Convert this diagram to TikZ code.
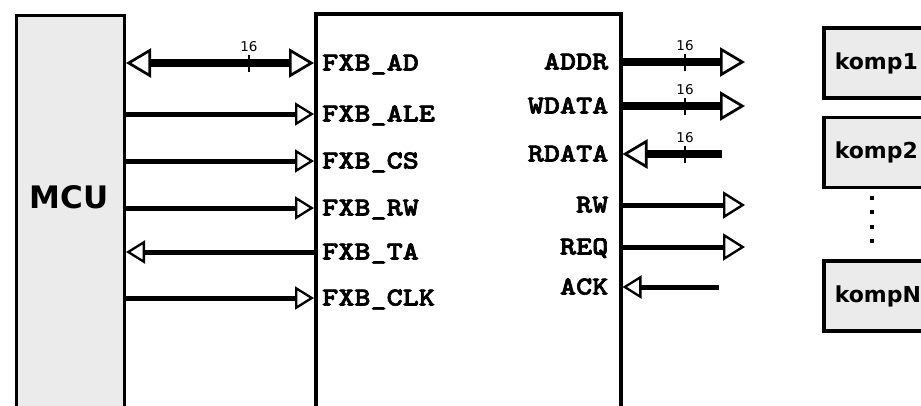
\documentclass[tikz,border=0pt]{standalone}
\usepackage{fontspec}
\setmainfont{DejaVu Sans}
\newfontfamily\sigfont{lmmonolt10-bold.otf}[FakeStretch=1.18, FakeBold=2.5]
\usetikzlibrary{arrows.meta,positioning}
\definecolor{blockgray}{HTML}{EBEBEB}
\tikzset{
  wtip/.tip={Triangle[open, length=19pt, width=23pt, line width=2.3pt]},
  otip/.tip={Triangle[open, length=22pt, width=27pt, line width=2.4pt]},
  btip/.tip={Triangle[open, length=25pt, width=29pt, line width=2.7pt]},
}
\begin{document}
\begin{tikzpicture}[x=1pt, y=-1pt,
    block/.style={draw, line width=3.5pt, fill=blockgray, inner sep=0pt},
    pin/.style={font=\sigfont\fontsize{26}{26}\selectfont, inner ysep=0pt, text height=15pt, text depth=0pt},
    wire/.style={line width=5pt},
    bus/.style={line width=7.5pt},
    komp/.style={block, anchor=west, minimum height=70pt, text width=100pt, align=left, inner xsep=11pt, font=\bfseries\fontsize{22}{22}\selectfont},
    num/.style={font=\fontsize{13.5}{13.5}\selectfont, inner sep=0pt}]
  \useasboundingbox (0,0) rectangle (921,405);
  \clip (0,0) rectangle (921,405);

  \node[block, anchor=north west, minimum width=108pt, minimum height=420pt] (mcu) at (14.5,13.5) {};
  \node[font=\bfseries\fontsize{31}{31}\selectfont] (mcutext) at (69,197) {MCU};
  \node[block, fill=white, anchor=north west, minimum width=305pt, minimum height=420pt] (fxb) at (314,12) {};

  \foreach \n/\t/\y in {ad/FXB\_AD/63, ale/FXB\_ALE/114, cs/FXB\_CS/161, rw/FXB\_RW/208, ta/FXB\_TA/252, clk/FXB\_CLK/298}
    \node[pin, anchor=west, inner xsep=8pt] (\n) at (fxb.west |- 0,\y) {\t};
  \foreach \n/\t/\y in {addr/ADDR/62, wdata/WDATA/106, rdata/RDATA/154, rwo/RW/205, req/REQ/247, ack/ACK/287}
    \node[pin, anchor=east, inner xsep=14pt] (\n) at (fxb.east |- 0,\y) {\t};
  \foreach \n/\x in {addr/745, wdata/745, rdata/722, rwo/745, req/745, ack/719}
    \coordinate (\n-o) at (\n.east -| \x,0);

  \draw[bus, btip-btip] (mcu.east |- ad.west) -- (ad.west);
  \foreach \n in {ale,cs,rw,clk}
    \draw[wire, -wtip] (mcu.east |- \n.west) -- (\n.west);
  \draw[wire, wtip-] (mcu.east |- ta.west) -- (ta.west);

  \draw[bus, -btip] (addr.east) -- (addr-o);
  \draw[bus, -btip] (wdata.east) -- (wdata-o);
  \draw[bus, btip-] (rdata.east) -- (rdata-o);
  \draw[wire, -otip] (rwo.east) -- (rwo-o);
  \draw[wire, -otip] (req.east) -- (req-o);
  \draw[wire, wtip-] (ack.east) -- (ack-o);

  \foreach \x/\n in {249/ad, 685/addr, 685/wdata, 685/rdata}
    \draw[line width=2pt] (\x,0 |- \n.west) ++(0,9) -- ++(0,-17) node[num, above=2pt] (w-\n) {16};

  \node[komp] (komp1) at (822,63) {komp1};
  \node[komp, below=16pt of komp1] (komp2) {komp2};
  \node[komp, anchor=west] (kompN) at (822,296) {kompN};
  \foreach \y in {198,212,227,241}
    \fill (870,\y-2) rectangle ++(4,4);
\end{tikzpicture}
\end{document}
